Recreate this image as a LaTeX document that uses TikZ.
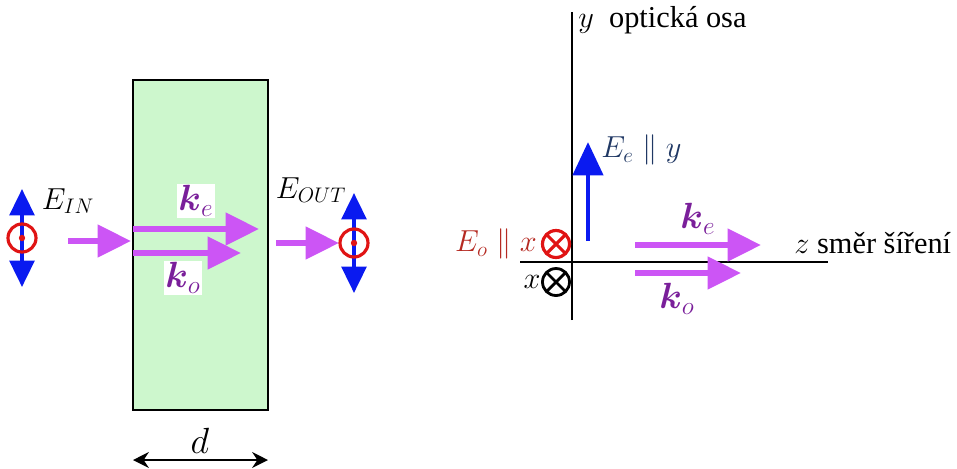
\documentclass[tikz,border=0pt]{standalone}
\usepackage{amsmath,amssymb}
\usepackage{fontspec}
\setmainfont{Liberation Serif}
\usetikzlibrary{arrows.meta,positioning}
\definecolor{kviolet}{HTML}{CC55F5}
\definecolor{klabel}{HTML}{7A1F9A}
\definecolor{eblue}{HTML}{0A1AF0}
\definecolor{ored}{HTML}{E01414}
\definecolor{slabgreen}{HTML}{CDF7CD}
\definecolor{enavy}{HTML}{203864}
\definecolor{edark}{HTML}{B52A22}

\begin{document}
\begin{tikzpicture}[x=0.02cm,y=-0.02cm,
  font=\LARGE,
  karrow/.style={-{Triangle[length=19pt,width=18pt]},line width=3.4pt,kviolet},
  earrow/.style={{Triangle[length=15pt,width=14pt]}-{Triangle[length=15pt,width=14pt]},line width=2.2pt,eblue},
  eup/.style={-{Triangle[length=19pt,width=17pt]},line width=2.8pt,eblue},
  ring/.style={circle,draw=ored,line width=1.8pt,minimum size=0.56cm,inner sep=0pt,outer sep=0pt},
  xcross/.style={circle,draw,line width=1.6pt,minimum size=0.54cm,inner sep=0pt,outer sep=0pt},
  klab/.style={fill=white,inner sep=1pt,text=klabel,font=\huge},
  axis/.style={line width=1.2pt}]
\useasboundingbox (0,0) rectangle (957,468);
% crystal plate
\node[draw,fill=slabgreen,line width=1.2pt,minimum width=2.7cm,minimum height=6.6cm,inner sep=0pt] (slab) at (200.5,245) {};
% input side
\coordinate (inTop) at (22,189); \coordinate (inBot) at (22,287);
\draw[earrow] (inBot) -- (inTop);
\node[ring] (inRing) at (22,238) {};
\fill[ored] (inRing.center) circle (3.2);
\node (Ein) at (68,201) {$E_{IN}$};
\coordinate (inS) at (68,241); \coordinate (inE) at (131,241);
\draw[karrow] (inS) -- (inE);
% inside the plate
\coordinate (keS) at (133,229); \coordinate (keE) at (259,229);
\coordinate (koS) at (133,253); \coordinate (koE) at (241,253);
\draw[karrow] (keS) -- (keE);
\draw[karrow] (koS) -- (koE);
\node[klab] (keL) at (196,201) {$\boldsymbol{k}_e$};
\node[klab] (koL) at (183,278) {$\boldsymbol{k}_o$};
% output side
\node (Eout) at (311,190) {$E_{OUT}$};
\coordinate (outS) at (276,243); \coordinate (outE) at (339,243);
\draw[karrow] (outS) -- (outE);
\coordinate (outTop) at (354,193); \coordinate (outBot) at (354,293);
\draw[earrow] (outBot) -- (outTop);
\node[ring] (outRing) at (354,243) {};
\fill[ored] (outRing.center) circle (3.2);
% thickness
\coordinate (dL) at (133,460); \coordinate (dR) at (268,460);
\draw[{Stealth[length=9pt,width=9pt]}-{Stealth[length=9pt,width=9pt]},line width=1.1pt] (dL) -- (dR);
\node[font=\huge] (dLab) at (200,441) {$d$};

% crystal axes
\coordinate (yTop) at (572,12); \coordinate (yBot) at (572,320);
\coordinate (zL) at (520,262); \coordinate (zR) at (828,262);
\draw[axis] (yBot) -- (yTop);
\draw[axis] (zL) -- (zR);
\node[anchor=west,inner sep=0pt] (yLab) at (578,20) {$y$\ \ optická osa};
\node[anchor=west,inner sep=0pt] (zLab) at (794,243) {$z$ směr šíření};
% extraordinary wave
\coordinate (eeS) at (588,241); \coordinate (eeE) at (588,142);
\draw[eup] (eeS) -- (eeE);
\node[text=enavy,anchor=west,inner sep=0pt] (EeLab) at (601,150) {$E_e \parallel y$};
% ordinary wave
\node[xcross,draw=ored,line width=1.8pt] (oCross) at (556,244) {};
\draw[ored,line width=1.8pt] (oCross.north west) -- (oCross.south east) (oCross.north east) -- (oCross.south west);
\node[text=edark,left=3pt of oCross,inner sep=0pt] (EoLab) {$E_o \parallel x$};
\node[xcross] (xCross) at (556,282) {};
\draw[line width=1.6pt] (xCross.north west) -- (xCross.south east) (xCross.north east) -- (xCross.south west);
\node[left=1pt of xCross,inner sep=0pt] (xLab) {$x$};
% wave vectors
\coordinate (keS2) at (635,245); \coordinate (keE2) at (761,245);
\coordinate (koS2) at (635,273); \coordinate (koE2) at (741,273);
\draw[karrow] (keS2) -- (keE2);
\draw[karrow] (koS2) -- (koE2);
\node[text=klabel,font=\huge] (keL2) at (698,219) {$\boldsymbol{k}_e$};
\node[text=klabel,font=\huge] (koL2) at (677,299) {$\boldsymbol{k}_o$};
\end{tikzpicture}
\end{document}
